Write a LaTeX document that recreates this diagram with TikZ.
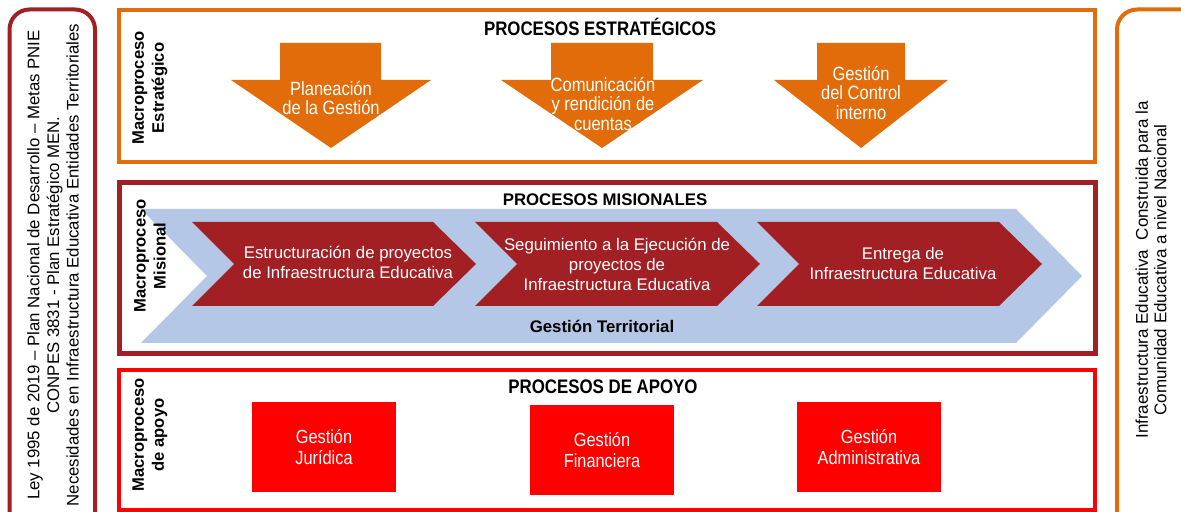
\documentclass[tikz,border=0pt]{standalone}
\usepackage{fontspec}
\setmainfont{Liberation Sans}
\newfontfamily\narrowfont[FakeStretch=0.86]{Liberation Sans}
\usetikzlibrary{positioning}
\definecolor{estorange}{HTML}{E36C0A}
\definecolor{misred}{HTML}{A21F24}
\definecolor{terblue}{HTML}{B4C7E7}
\definecolor{apored}{HTML}{FF0000}
\tikzset{macro label/.style={rotate=90,align=center,font=\bfseries\fontsize{8.3}{10}\selectfont}}
\tikzset{area title/.style={font=\narrowfont\bfseries\fontsize{9.8}{11}\selectfont}}
\tikzset{chevron text/.style={text=white,align=center,font=\fontsize{8.4}{10}\selectfont}}
\tikzset{arrow text/.style={text=white,align=center,font=\narrowfont\fontsize{9.6}{9.8}\selectfont}}
\tikzset{apoyo box/.style={fill=apored,text=white,align=center,minimum width=72pt,minimum height=45pt,font=\narrowfont\fontsize{9.5}{10.2}\selectfont}}
\tikzset{side text/.style={rotate=90,align=center}}

\begin{document}
\begin{tikzpicture}[x=0.5pt,y=-0.5pt]
\clip (0,0) rectangle (1181,512);
\fill[white] (0,0) rectangle (1181,512);

%side boxes
\draw[misred,line width=2pt,rounded corners=10pt] (9.5,9.5) rectangle (95,560);
\draw[estorange,line width=2pt,rounded corners=10pt] (1117,9.5) rectangle (1240,560);
\node[side text,font=\fontsize{8.4}{9.8}\selectfont] (normas) at (53,265) {Ley 1995 de 2019 -- Plan Nacional de Desarrollo -- Metas PNIE\\CONPES 3831 - Plan Estratégico MEN.\\Necesidades en Infraestructura Educativa Entidades Territoriales};
\node[side text,font=\fontsize{8.5}{9.2}\selectfont] (resultado) at (1151,270) {Infraestructura Educativa\ \ Construida para la\\Comunidad Educativa a nivel Nacional};

%macroprocesos
\draw[estorange,line width=2pt] (119,10) rectangle (1095,162);
\draw[misred,line width=2.5pt] (119.5,182.5) rectangle (1095,354);
\draw[apored,line width=2pt] (119,370) rectangle (1095,510);

\node[area title] (estrategicos) at (600,27) {PROCESOS ESTRATÉGICOS};
\node[font=\bfseries\fontsize{8.4}{10}\selectfont] (misionales) at (605,200) {PROCESOS MISIONALES};
\node[area title] (apoyo) at (603,387) {PROCESOS DE APOYO};

%procesos estrategicos
\fill[estorange] (280,43) -- (381,43) -- (381,80) -- (431,80) -- (331,148) -- (231,80) -- (280,80) -- cycle;
\fill[estorange] (551,43) -- (653,43) -- (653,80) -- (703,80) -- (602,148) -- (501,80) -- (551,80) -- cycle;
\fill[estorange] (817,43) -- (905,43) -- (905,80) -- (948,80) -- (861,148) -- (774,80) -- (817,80) -- cycle;
\node[arrow text] (planeacion) at (331,98) {Planeación\\de la Gestión};
\node[arrow text] (comunicacion) at (603,104) {Comunicación\\y rendición de\\cuentas};
\node[arrow text] (control) at (861,93) {Gestión\\del Control\\interno};

%procesos misionales
\fill[terblue] (141,209) -- (1016,209) -- (1082,276) -- (1016,343) -- (141,343) -- (207,276) -- cycle;
\fill[misred] (192,222) -- (433,222) -- (476,264) -- (433,306) -- (192,306) -- (234,264) -- cycle;
\fill[misred] (475,222) -- (717,222) -- (760,264) -- (717,306) -- (475,306) -- (517,264) -- cycle;
\fill[misred] (757,222) -- (999,222) -- (1042,264) -- (999,306) -- (757,306) -- (799,264) -- cycle;
\node[chevron text] (estructuracion) at (348,262) {Estructuración de proyectos\\de Infraestructura Educativa};
\node[chevron text] (seguimiento) at (617,264) {Seguimiento a la Ejecución de\\proyectos de\\Infraestructura Educativa};
\node[chevron text] (entrega) at (903,263) {Entrega de\\Infraestructura Educativa};
\node[font=\bfseries\fontsize{8.4}{10}\selectfont] (territorial) at (602,326) {Gestión Territorial};

%procesos de apoyo
\node[apoyo box] (juridica) at (324,447) {Gestión\\Jurídica};
\node[apoyo box] (financiera) at (602,450) {Gestión\\Financiera};
\node[apoyo box] (administrativa) at (869,447) {Gestión\\Administrativa};

\node[macro label] (macroest) at (150,88) {Macroproceso\\Estratégico};
\node[macro label] (macromis) at (150,256) {Macroproceso\\Misional};
\node[macro label] (macroapo) at (150,435) {Macroproceso\\de apoyo};

\end{tikzpicture}
\end{document}
